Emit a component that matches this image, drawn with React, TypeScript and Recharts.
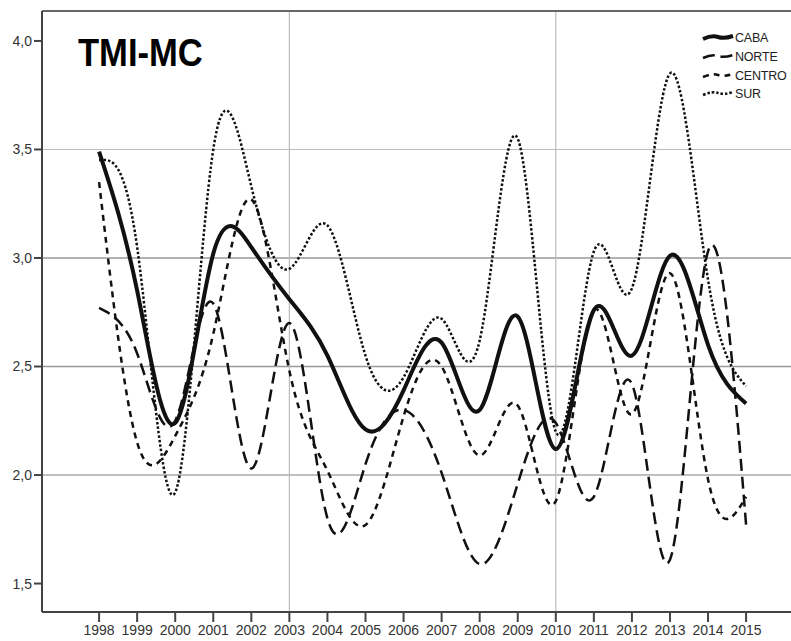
import { LineChart, Line, XAxis, YAxis, ReferenceLine } from "recharts";

const years = [1998, 1999, 2000, 2001, 2002, 2003, 2004, 2005, 2006, 2007, 2008, 2009, 2010, 2011, 2012, 2013, 2014, 2015];
const caba = [3.49, 2.85, 2.24, 3.02, 3.05, 2.81, 2.55, 2.21, 2.39, 2.61, 2.3, 2.73, 2.12, 2.76, 2.55, 3.01, 2.6, 2.33];
const norte = [2.77, 2.56, 2.25, 2.79, 2.03, 2.7, 1.8, 2.05, 2.3, 2.01, 1.59, 1.96, 2.24, 1.9, 2.42, 1.61, 3.03, 1.77];
const centro = [3.35, 2.15, 2.18, 2.65, 3.27, 2.48, 2.02, 1.77, 2.27, 2.5, 2.09, 2.32, 1.88, 2.76, 2.28, 2.93, 1.98, 1.9];
const sur = [3.45, 3.05, 1.92, 3.5, 3.33, 2.95, 3.15, 2.55, 2.45, 2.72, 2.62, 3.55, 2.2, 3.03, 2.86, 3.85, 2.9, 2.41];
const yTicks = [1.5, 2.0, 2.5, 3.0, 3.5, 4.0];

const data = years.map((y, i) => ({ year: y, CABA: caba[i], NORTE: norte[i], CENTRO: centro[i], SUR: sur[i] }));

const series = [
  { key: "CABA", width: 4, dash: undefined },
  { key: "NORTE", width: 2.5, dash: "12 6" },
  { key: "CENTRO", width: 2.5, dash: "6 5" },
  { key: "SUR", width: 2.5, dash: "2.5 2" },
];

const fmt = (v: number) => v.toFixed(1).replace(".", ",");

export default function App() {
  return (
    <div style={{ position: "absolute", left: 0, top: 0, width: 791, height: 641, background: "#fff", fontFamily: "Arial, 'Liberation Sans', sans-serif" }}>
      <LineChart width={791} height={641} data={data} margin={{ top: 11, right: 0, bottom: 0, left: 0 }}>
        <ReferenceLine y={3.5} stroke="#bbb" strokeWidth={1.2} />
        <ReferenceLine y={3.0} stroke="#999" strokeWidth={1.6} />
        <ReferenceLine y={2.5} stroke="#999" strokeWidth={1.6} />
        <ReferenceLine y={2.0} stroke="#aaa" strokeWidth={1.4} />
        <ReferenceLine x={2003} stroke="#bbb" strokeWidth={1.2} />
        <ReferenceLine x={2010} stroke="#bbb" strokeWidth={1.2} />
        <ReferenceLine y={4.138} stroke="#666" strokeWidth={2} />
        <XAxis
          dataKey="year"
          type="number"
          domain={[1996.5, 2016.18]}
          ticks={years}
          interval={0}
          allowDataOverflow
          height={29}
          tickSize={10}
          tickMargin={3}
          stroke="#444"
          strokeWidth={2}
          tick={{ fill: "#333", fontSize: 14 }}
        />
        <YAxis
          type="number"
          domain={[1.369, 4.138]}
          ticks={yTicks}
          allowDataOverflow
          width={42}
          tickSize={8}
          tickMargin={2}
          tickFormatter={fmt}
          stroke="#444"
          strokeWidth={2}
          tick={{ fill: "#333", fontSize: 14 }}
        />
        {series.map((s) => (
          <Line
            key={s.key}
            type="natural"
            dataKey={s.key}
            stroke="#111"
            strokeWidth={s.width}
            strokeDasharray={s.dash}
            dot={false}
            activeDot={false}
            isAnimationActive={false}
          />
        ))}
      </LineChart>
      <div style={{ position: "absolute", left: 78, top: 34, fontSize: 38, lineHeight: "38px", fontWeight: "bold", color: "#000", transform: "scaleX(0.91)", transformOrigin: "left top", whiteSpace: "nowrap" }}>
        TMI-MC
      </div>
      <div style={{ position: "absolute", left: 702, top: 29 }}>
        {series.map((s) => (
          <div key={s.key} style={{ display: "flex", alignItems: "center", height: 18.7 }}>
            <svg width={32} height={10}>
              <path d="M1 6 Q 10 2 16 4 T 31 3" fill="none" stroke="#111" strokeWidth={s.key === "CABA" ? 4 : 2.5} strokeDasharray={s.dash} />
            </svg>
            <span style={{ fontSize: 12.5, color: "#222", marginLeft: 1, letterSpacing: -0.2 }}>{s.key}</span>
          </div>
        ))}
      </div>
    </div>
  );
}
